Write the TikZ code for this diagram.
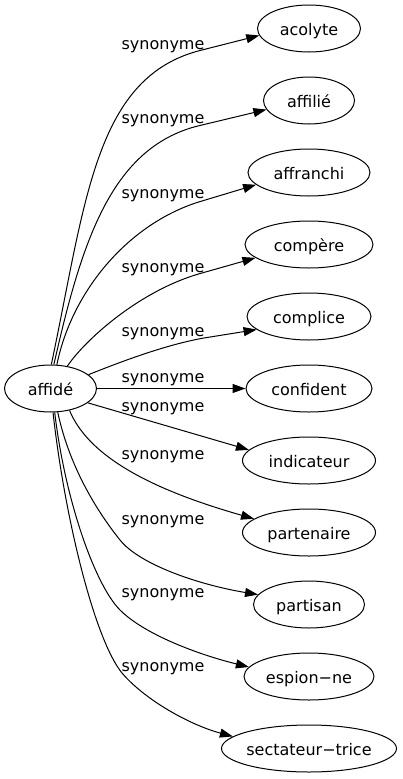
\documentclass[tikz,border=0pt]{standalone}
\usepackage{fontspec}
\setmainfont{DejaVu Sans}
\usetikzlibrary{arrows.meta,shapes.geometric}
\begin{document}
\begin{tikzpicture}[x=1pt,y=-1pt,
  word/.style={draw, ellipse, line width=1pt, inner sep=0pt, minimum height=47pt,
    text height=13pt, text depth=0pt, font=\fontsize{16pt}{19pt}\selectfont},
  lbl/.style={anchor=base, inner sep=0pt, font=\fontsize{16pt}{19pt}\selectfont},
  syn/.style={draw, line width=1pt, -{Triangle[length=13pt,width=9pt]}}]
\useasboundingbox (0,0) rectangle (402,779);

\node[word, minimum width=92pt]  (affide)     at (50.5,388.5) {\makebox[0pt]{affidé}};
\node[word, minimum width=103pt] (acolyte)    at (309,28.5)  {\makebox[0pt]{acolyte}};
\node[word, minimum width=91pt]  (affilie)    at (309,100.5) {\makebox[0pt]{affilié}};
\node[word, minimum width=122pt] (affranchi)  at (309,172.5) {\makebox[0pt]{affranchi}};
\node[word, minimum width=128pt] (compere)    at (309,244.5) {\makebox[0pt]{compère}};
\node[word, minimum width=124pt] (complice)   at (309,316.5) {\makebox[0pt]{complice}};
\node[word, minimum width=126pt] (confident)  at (309,388.5) {\makebox[0pt]{confident}};
\node[word, minimum width=133pt] (indicateur) at (309,460.5) {\makebox[0pt]{indicateur}};
\node[word, minimum width=133pt] (partenaire) at (309,532.5) {\makebox[0pt]{partenaire}};
\node[word, minimum width=111pt] (partisan)   at (309,604.5) {\makebox[0pt]{partisan}};
\node[word, minimum width=130pt] (espion)     at (309,676.5) {\makebox[0pt]{espion−ne}};
\node[word, minimum width=175pt] (sectateur)  at (309,748.5) {\makebox[0pt]{sectateur−trice}};

\node[lbl] (l1)  at (163,49)  {synonyme};
\node[lbl] (l2)  at (163,123) {synonyme};
\node[lbl] (l3)  at (163,198) {synonyme};
\node[lbl] (l4)  at (163,272) {synonyme};
\node[lbl] (l5)  at (163,336) {synonyme};
\node[lbl] (l6)  at (163,382) {synonyme};
\node[lbl] (l7)  at (163,411) {synonyme};
\node[lbl] (l8)  at (163,459) {synonyme};
\node[lbl] (l9)  at (163,524) {synonyme};
\node[lbl] (l10) at (163,597) {synonyme};
\node[lbl] (l11) at (163,671) {synonyme};

\draw[syn] (affide.88) .. controls (86,200) and (95,76) .. (202,50) -- (acolyte.188.5);
\draw[syn] (affide.82) .. controls (82,240) and (112,145) .. (202,125) -- (affilie.192.5);
\draw[syn] (affide.75) .. controls (72,290) and (130,222) .. (202,201) -- (affranchi.193.4);
\draw[syn] (affide.53.6) .. controls (85,340) and (140,290) .. (202,273) -- (compere.194.2);
\draw[syn] (affide.20.7) .. controls (130,358) and (170,344) .. (204,338) -- (complice.194.6);
\draw[syn] (affide) -- (confident);
\draw[syn] (affide.339.3) -- (indicateur.170.1);
\draw[syn] (affide.311.8) .. controls (90,460) and (160,492) .. (partenaire.166.3);
\draw[syn] (affide.287.6) .. controls (70,470) and (100,515) .. (120,540) .. controls (140,565) and (200,585) .. (partisan.169.5);
\draw[syn] (affide.280.7) .. controls (65,500) and (95,585) .. (120,610) .. controls (145,635) and (200,655) .. (espion.171);
\draw[syn] (affide.276) .. controls (65,520) and (95,640) .. (122,673) .. controls (145,700) and (190,725) .. (sectateur.171.5);
\end{tikzpicture}
\end{document}
